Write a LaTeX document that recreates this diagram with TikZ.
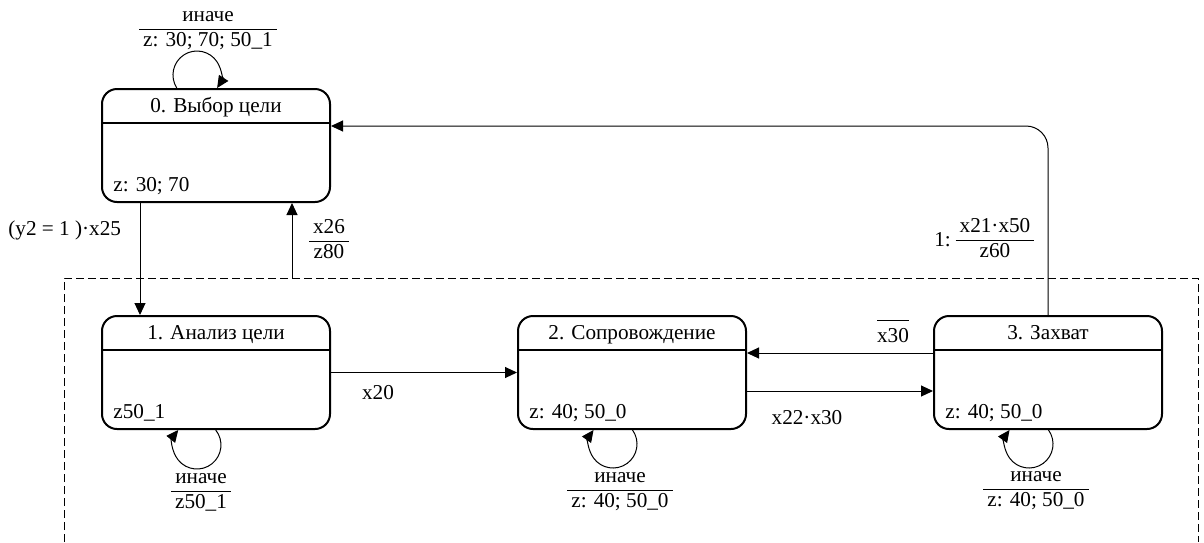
\documentclass[tikz,border=0pt]{standalone}
\usepackage{fontspec}
\setmainfont{Liberation Serif}
\usetikzlibrary{arrows.meta,calc}
\newcommand{\frc}[2]{{\setlength{\tabcolsep}{2pt}\begin{tabular}{c}#1\\\hline #2\end{tabular}}}
\begin{document}
\begin{tikzpicture}[x=0.5pt,y=0.5pt,
  font=\fontsize{10.6}{12.4}\selectfont,
  state/.style={draw, line width=1pt, rounded corners=7.5pt, minimum width=114pt, minimum height=56.5pt, inner sep=0pt},
  divider/.style={line width=1pt},
  conn/.style={line width=0.5pt, -{Triangle[length=6pt,width=5.5pt]}},
  lbl/.style={inner sep=0pt},
  frame/.style={line width=0.5pt, dash pattern=on 4pt off 2pt}]
\useasboundingbox (0,0) rectangle (1204,-542);
\clip (0,0) rectangle (1204,-542);
% states
\node[state] (s0) at (216,-145.5) {};
\node[state] (s1) at (216,-372.5) {};
\node[state] (s2) at (632,-372.5) {};
\node[state] (s3) at (1048,-372.5) {};
\foreach \s in {s0,s1,s2,s3}{
  \draw[divider] ($(\s.north west)+(0,-35)$) -- ($(\s.north east)+(0,-35)$);
}
\node[lbl, anchor=base] (t0) at ($(s0.north)+(0,-24)$) {0. Выбор цели};
\node[lbl, anchor=base] (t1) at ($(s1.north)+(0,-24)$) {1. Анализ цели};
\node[lbl, anchor=base] (t2) at ($(s2.north)+(0,-24)$) {2. Сопровождение};
\node[lbl, anchor=base] (t3) at ($(s3.north)+(0,-24)$) {3. Захват};
\node[lbl, anchor=base west] (b0) at ($(s0.south west)+(12,12)$) {z: 30; 70};
\node[lbl, anchor=base west] (b1) at ($(s1.south west)+(12,12)$) {z50\_1};
\node[lbl, anchor=base west] (b2) at ($(s2.south west)+(12,12)$) {z: 40; 50\_0};
\node[lbl, anchor=base west] (b3) at ($(s3.south west)+(12,12)$) {z: 40; 50\_0};
% dashed frame
\draw[frame] (64,-542) -- (64,-278) -- (1198,-278) -- (1198,-542);
% connectors
\draw[conn] ($(s0.south west)+(39,0)$) -- ($(s1.north west)+(39,0)$);
\coordinate (f1) at (292,-278);
\draw[conn] (f1) -- (f1 |- s0.south);
\draw[conn, rounded corners=11pt] (s3.north) |- ($(s0.north east)+(0,-38)$);
\draw[conn] (s1.east) -- (s2.west);
\draw[conn] ($(s3.north west)+(0,-38)$) -- ($(s2.north east)+(0,-38)$);
\draw[conn] ($(s2.north east)+(0,-76)$) -- ($(s3.north west)+(0,-76)$);
% self loops
\draw[conn] ($(s0.north)+(-39.2,0)$) arc[start angle=212.8, end angle=-32.8, radius=12pt];
\draw[conn] ($(s1.south)+(-0.3,0)$) arc[start angle=38.7, end angle=-218.7, radius=12pt];
\draw[conn] ($(s2.south)+(0.5,0)$) arc[start angle=35.7, end angle=-215.7, radius=12pt];
\draw[conn] ($(s3.south)+(0.5,0)$) arc[start angle=35.7, end angle=-215.7, radius=12pt];
% labels
\node[lbl] (l00) at (208,-29) {\frc{иначе}{z: 30; 70; 50\_1}};
\node[lbl] (l11) at (201,-491) {\frc{иначе}{z50\_1}};
\node[lbl] (l22) at (620,-490) {\frc{иначе}{z: 40; 50\_0}};
\node[lbl] (l33) at (1036,-489) {\frc{иначе}{z: 40; 50\_0}};
\node[lbl, anchor=west] (l01) at (8,-230) {(y2 = 1 )·x25};
\node[lbl] (l10) at (329,-241) {\frc{x26}{z80}};
\node[lbl] (l12) at (378,-393) {x20};
\node[lbl] (l32) at (893,-331) {$\overline{\mbox{\rule{0pt}{9.5pt}x30}}$};
\node[lbl] (l23) at (807,-418) {x22·x30};
\node[lbl] (l30) at (995,-240) {\frc{x21·x50}{z60}};
\node[lbl, anchor=east] (l30a) at ($(l30.west)+(-4,0)$) {1:};
\end{tikzpicture}
\end{document}
